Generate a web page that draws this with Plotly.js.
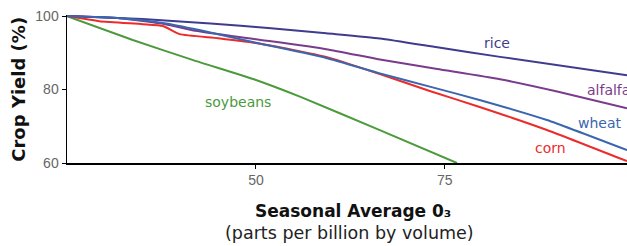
<!DOCTYPE html>
<html>
<head>
<meta charset="utf-8">
<script src="https://cdn.plot.ly/plotly-3.0.1.min.js"></script>
<style>html,body{margin:0;padding:0;background:#fff;}#chart{width:627px;height:246px;}</style>
</head>
<body>
<div id="chart"></div>
<script>
const riceX = [25, 35, 44, 52, 59.3, 66.4, 74, 82.3, 99.1];
const riceY = [100, 99.2, 98.0, 96.7, 95.3, 93.9, 91.5, 88.9, 83.9];
const alfalfaX = [25, 32, 38, 42, 50, 59.3, 66.4, 74, 82.3, 90, 99.1];
const alfalfaY = [100, 99.4, 97.8, 96.0, 93.7, 91.0, 88.2, 85.6, 82.8, 79.4, 74.9];
const wheatX = [25, 32, 38.1, 42.5, 50.6, 59.3, 66.4, 73, 79.7, 88.5, 99.1];
const wheatY = [100, 99.4, 98.0, 96.2, 92.5, 88.6, 84.4, 80.8, 77.1, 71.7, 63.5];
const cornX = [25, 29.3, 35, 37.7, 39.9, 45, 50.6, 59.3, 66.4, 73, 79.7, 88.5, 99.1];
const cornY = [100, 98.6, 97.8, 97.3, 95.1, 94.0, 92.5, 88.9, 84.2, 79.6, 75.2, 69.0, 60.5];
const soyX = [25, 33.7, 41.7, 50, 55.9, 66, 76.6];
const soyY = [100, 93.5, 88.0, 82.6, 78.0, 69.3, 60];
const xTicks = [50, 75];
const yTicks = [60, 80, 100];

const colors = {rice:'#3f3b8e', alfalfa:'#7b3b8c', wheat:'#3a66ad', corn:'#ec2b2b', soy:'#4b9a3c'};
const FONT = 'DejaVu Sans, sans-serif';
const TICKFONT = 'Liberation Sans Narrow, Liberation Sans, sans-serif';

function tr(x, y, c) {
  return {x: x, y: y, type: 'scatter', mode: 'lines',
          line: {color: c, width: 2, shape: 'spline', smoothing: 0.5}, hoverinfo: 'skip'};
}
const data = [
  tr(soyX, soyY, colors.soy),
  tr(alfalfaX, alfalfaY, colors.alfalfa),
  tr(riceX, riceY, colors.rice),
  tr(cornX, cornY, colors.corn),
  tr(wheatX, wheatY, colors.wheat)
];

function lab(text, x, y, c, anchor) {
  return {text: text, x: x, y: y, xref: 'x', yref: 'y', showarrow: false,
          xanchor: anchor, yanchor: 'middle', font: {family: FONT, size: 14, color: c}};
}

const layout = {
  width: 627, height: 246,
  margin: {l: 67, r: 0, t: 15, b: 83, pad: 0},
  paper_bgcolor: '#fff', plot_bgcolor: '#fff',
  showlegend: false,
  xaxis: {range: [25, 99.1], tickvals: xTicks, ticktext: xTicks.map(String),
          showgrid: false, zeroline: false, showline: true, linecolor: '#000', linewidth: 1.5,
          ticks: 'outside', ticklen: 4, tickcolor: '#000', tickwidth: 1,
          tickfont: {family: TICKFONT, size: 14, color: '#666'}},
  yaxis: {range: [60, 100.3], tickvals: yTicks, ticktext: yTicks.map(String),
          showgrid: false, zeroline: false, showline: true, linecolor: '#000', linewidth: 1.5,
          ticks: 'outside', ticklen: 4, tickcolor: '#000', tickwidth: 1,
          tickfont: {family: TICKFONT, size: 14, color: '#666'}},
  annotations: [
    lab('rice', 81.9, 92.7, colors.rice, 'center'),
    lab('alfalfa', 93.6, 79.9, colors.alfalfa, 'left'),
    lab('wheat', 92.3, 70.9, colors.wheat, 'left'),
    lab('corn', 86.6, 64.1, colors.corn, 'left'),
    lab('soybeans', 43.0, 76.6, colors.soy, 'left'),
    {text: '<b>Crop Yield (%)</b>', xref: 'paper', yref: 'paper', x: -0.088, y: 0.5,
     xanchor: 'center', yanchor: 'middle', textangle: -90, showarrow: false,
     font: {family: FONT, size: 18, color: '#111'}},
    {text: '<b>Seasonal Average 0₃</b>', xref: 'paper', yref: 'paper', x: 0.5, y: 0,
     xanchor: 'center', yanchor: 'middle', showarrow: false, yshift: -48, xshift: 6,
     font: {family: FONT, size: 17, color: '#111'}},
    {text: '(parts per billion by volume)', xref: 'paper', yref: 'paper', x: 0.5, y: 0,
     xanchor: 'center', yanchor: 'middle', showarrow: false, yshift: -70, xshift: 2,
     font: {family: FONT, size: 17.5, color: '#222'}}
  ]
};

Plotly.newPlot('chart', data, layout, {displayModeBar: false, staticPlot: true});
</script>
</body>
</html>
